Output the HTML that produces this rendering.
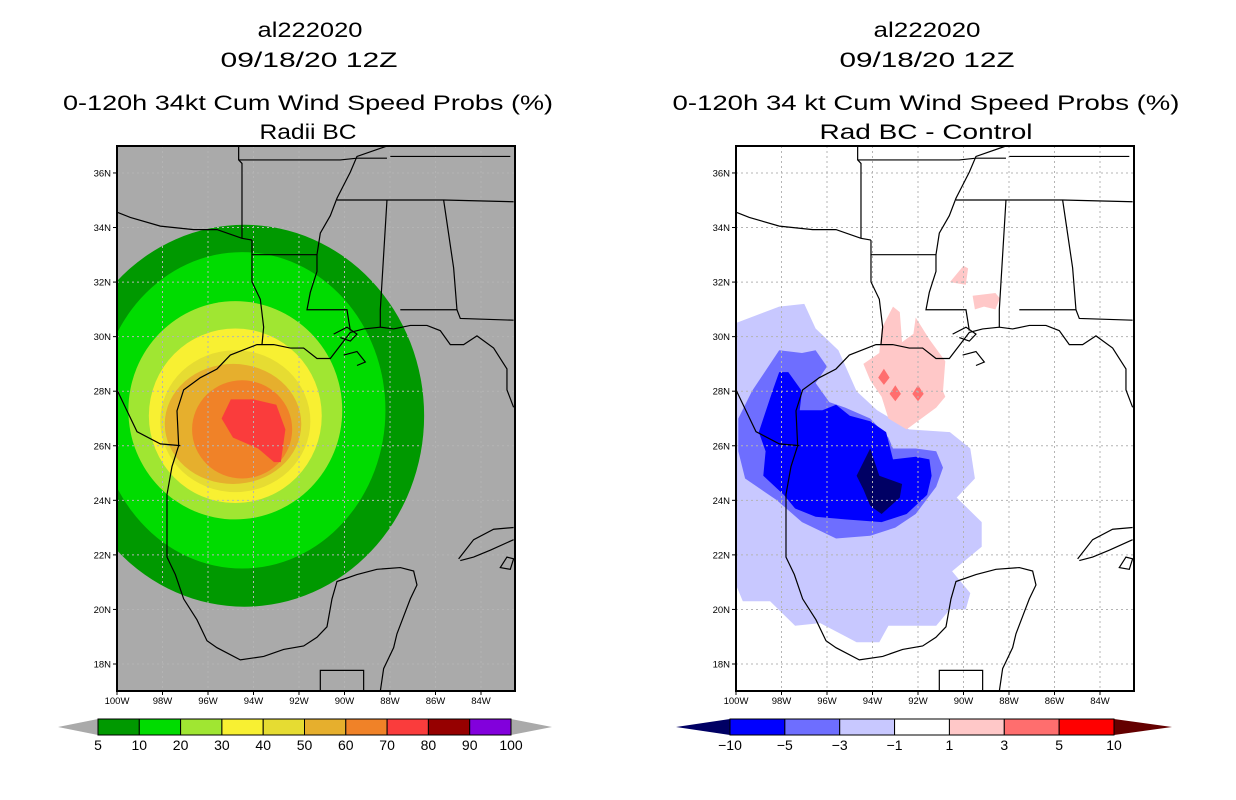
<!DOCTYPE html>
<html><head><meta charset="utf-8">
<style>
body{margin:0;background:#fff;width:1236px;height:800px;overflow:hidden;font-family:"Liberation Sans",sans-serif}
svg{position:absolute;left:0;top:0}
</style></head>
<body>
<svg id="chart" width="1236" height="800" viewBox="0 0 1236 800">
<g font-family="Liberation Sans, sans-serif" font-size="21" text-anchor="middle" fill="#000">
<text x="310" y="37" textLength="105" lengthAdjust="spacingAndGlyphs">al222020</text>
<text x="309" y="67" textLength="177" lengthAdjust="spacingAndGlyphs">09/18/20 12Z</text>
<text x="308" y="110" textLength="490" lengthAdjust="spacingAndGlyphs">0-120h 34kt Cum Wind Speed Probs (%)</text>
<text x="308" y="139" textLength="97" lengthAdjust="spacingAndGlyphs">Radii BC</text>
</g>
<g font-family="Liberation Sans, sans-serif" font-size="21" text-anchor="middle" fill="#000">
<text x="927" y="37" textLength="107" lengthAdjust="spacingAndGlyphs">al222020</text>
<text x="927" y="67" textLength="175" lengthAdjust="spacingAndGlyphs">09/18/20 12Z</text>
<text x="926" y="110" textLength="507" lengthAdjust="spacingAndGlyphs">0-120h 34 kt Cum Wind Speed Probs (%)</text>
<text x="926" y="139" textLength="213" lengthAdjust="spacingAndGlyphs">Rad BC - Control</text>
</g>
<g id="leftPanel" transform="translate(117,146)"></g>
<g id="rightPanel" transform="translate(736,146)"></g>
<g id="leftBar"></g>
<g id="rightBar"></g>
</svg>
<script>
// ---- data ----
const lonTicks=[100,98,96,94,92,90,88,86,84];
const latTicks=[18,20,22,24,26,28,30,32,34,36];
// left: probability contours as ellipses
const probLevels=[5,10,20,30,40,50,60];
const probCenterLon=[94.4,94.5,94.8,94.8,94.8,94.9,94.5];
const probCenterLat=[27.1,27.3,27.3,27.1,26.9,26.8,26.6];
const probRadLon=[7.9,6.3,4.7,3.8,3.3,3.0,2.2];
const probRadLat=[7.0,5.8,4.0,3.2,2.6,2.2,1.8];
const probCoreLon=[95.4,95.0,94.0,93.0,92.6,92.8,93.1,93.8,94.9];
const probCoreLat=[27.0,27.7,27.7,27.5,26.6,25.4,25.4,25.9,26.3];
const probColors=['#009900','#00dc00','#a0e632','#f8f032','#e6dc32','#e6af2d','#f08228','#fa3c3c','#960000','#8200dc'];
const probLabels=['5','10','20','30','40','50','60','70','80','90','100'];
// right: difference contours [lon, lat]
const diffLight=[[100,30.5],[98.1,31.1],[97.0,31.2],[96.5,30.3],[95.5,29.5],[94.7,28.0],[93.8,27.3],[92.4,26.6],[90.6,26.5],[89.7,25.9],[89.5,24.8],[90.3,24.1],[89.2,23.2],[89.2,22.3],[90.5,21.4],[89.7,20.6],[89.9,20.0],[90.6,20.0],[91.2,19.4],[93.3,19.4],[93.7,18.8],[94.7,18.8],[96.3,19.5],[97.4,19.4],[98.5,20.3],[99.7,20.3],[100,20.9]];
const diffMed=[[99.9,27.0],[99.3,28.0],[98.1,29.5],[97.1,29.4],[96.5,29.5],[96.0,28.9],[96.5,28.3],[95.9,27.6],[95.2,27.4],[94.1,27.0],[93.3,26.3],[93.1,25.9],[92.1,25.9],[91.2,25.8],[90.9,25.2],[91.2,24.5],[92.1,23.5],[93.0,23.0],[94.1,22.7],[95.6,22.6],[97.1,23.2],[98.2,24.0],[99.6,24.8],[99.9,25.8]];
const diffBlue=[[99.0,26.5],[98.4,28.0],[98.1,28.7],[97.7,28.7],[97.1,28.0],[97.2,27.3],[96.2,27.3],[95.6,27.5],[95.0,27.1],[94.1,26.9],[93.4,26.5],[93.1,25.5],[92.1,25.6],[91.5,25.5],[91.4,24.9],[91.6,24.2],[92.5,23.5],[93.6,23.2],[95.2,23.3],[96.5,23.4],[97.4,23.7],[97.9,24.2],[98.8,24.9],[98.7,25.8]];
const diffNavy=[[94.1,25.9],[93.7,24.9],[92.7,24.6],[92.8,24.1],[93.6,23.5],[94.1,23.8],[94.4,24.4],[94.7,24.9]];
const diffPink=[[94.4,29.0],[93.7,29.4],[93.6,30.3],[93.1,31.1],[92.8,30.9],[92.7,29.8],[92.2,30.1],[92.1,30.7],[91.5,29.9],[90.8,29.1],[90.9,28.0],[90.8,27.8],[91.2,27.4],[92.5,26.6],[93.3,27.0],[93.6,27.8],[94.1,28.4]];
const diffPink2=[[90.6,32.0],[90.0,32.6],[89.8,32.5],[89.9,31.9]];
const diffPink3=[[89.6,31.5],[88.6,31.6],[88.4,31.4],[88.6,31.0],[89.1,31.1],[89.5,31.0]];
const diffRedLon=[93.5,93.0,92.0];
const diffRedLat=[28.5,27.9,27.9];
const diffColors=['#000064','#0000ff','#6e6eff','#c8c8ff','#ffffff','#ffc8c8','#ff6e6e','#ff0000','#640000'];
const diffLabels=['-10','-5','-3','-1','1','3','5','10'];

// ---- axes ----
const W=398,H=545;
const x=lon=>(100-lon)*22.75;
const y=lat=>518-(lat-18)*27.28;
const NS='http://www.w3.org/2000/svg';
function mk(tag,attrs,parent){const e=document.createElementNS(NS,tag);for(const k in attrs)e.setAttribute(k,attrs[k]);parent.appendChild(e);return e;}
function polyPts(arr){return arr.map(p=>x(p[0]).toFixed(1)+','+y(p[1]).toFixed(1)).join(' ');}

// geography outlines (pixel units, scaled)
const geo=[
"M1190,750 L1170,700 1170,640 1130,580 1080,545 1040,570 1000,570 970,530 930,515 880,515 830,525 790,520 740,525 700,535 680,560 640,610 600,610 560,580 520,580 470,570 420,570 380,585 340,600 300,640 250,665 200,700 180,760 185,860 165,920 150,1000 150,1100 150,1180 175,1230 200,1300 240,1360 270,1420 300,1440 370,1475 440,1465 500,1445 560,1435 600,1410 630,1380 645,1300 660,1250 720,1230 780,1215 850,1210 890,1220 900,1260 880,1300 860,1350 840,1400 830,1440 810,1480 800,1500 790,1565",
"M0,190 L40,205 130,230 230,240 300,240 375,265 405,270",
"M365,0 L365,40 375,50 375,265",
"M365,40 L670,40 720,35 810,35",
"M405,270 L405,312 600,312",
"M405,312 L405,390 430,440 440,520 435,570",
"M810,0 L720,30 700,75 660,150 640,200 610,250 600,312 600,360 580,420 570,470 690,470 700,530",
"M660,155 L980,155 1190,160",
"M810,155 L790,470 790,520",
"M850,470 L1020,470 1030,495 1190,500",
"M980,155 L1010,350 1020,470",
"M820,30 L1180,30",
"M0,700 L40,780 60,820 130,855 190,860",
"M610,1565 L610,1505 740,1505 740,1565",
"M1025,1185 L1070,1130 1130,1100 1190,1095 M1190,1130 L1120,1160 1070,1180 1030,1190",
"M650,540 L690,520 720,540 700,560 670,550 M680,600 L720,590 745,620 720,630",
"M1170,1180 L1190,1185 1180,1215 1150,1210 Z"
];

function panel(g,bg,drawFill,tag){
  mk('rect',{x:0,y:0,width:W,height:H,fill:bg,},g);
  const fills=mk('g',{},g);
  
  
  drawFill(fills);
  const grid=mk('g',{stroke:'#b4b4b4','stroke-width':1,'stroke-dasharray':'2,3',fill:'none'},g);
  
  
  lonTicks.forEach(l=>{if(l<100)mk('line',{x1:x(l),y1:0,x2:x(l),y2:H},grid);});
  latTicks.forEach(l=>mk('line',{x1:0,y1:y(l),x2:W,y2:y(l)},grid));
  const geoG=mk('g',{transform:'scale(0.3333,0.3484)',fill:'none',stroke:'#000','stroke-width':1.2},g);
  
  
  geo.forEach(d=>mk('path',{d:d,'vector-effect':'non-scaling-stroke'},geoG));
  mk('rect',{x:0,y:0,width:W,height:H,fill:'none',stroke:'#000','stroke-width':2,},g);
  const ax=mk('g',{'font-size':9.5,'font-family':'Liberation Sans, sans-serif',fill:'#000'},g);
  
  
  latTicks.forEach(l=>{
    mk('line',{x1:-4,y1:y(l),x2:0,y2:y(l),stroke:'#000'},ax);
    const t=mk('text',{x:-6,y:y(l)+3.5,'text-anchor':'end'},ax);t.textContent=l+'N';
    
    
  });
  lonTicks.forEach(l=>{
    mk('line',{x1:x(l),y1:H,x2:x(l),y2:H+4,stroke:'#000'},ax);
    const t=mk('text',{x:x(l),y:H+13,'text-anchor':'middle'},ax);t.textContent=l+'W';
    
    
  });
}

const L=document.getElementById('leftPanel');
panel(L,'#aaaaaa',f=>{
  const cp=mk('clipPath',{id:'clipL'},f);mk('rect',{x:0,y:0,width:W,height:H},cp);
  f.setAttribute('clip-path','url(#clipL)');
  probLevels.forEach((lv,i)=>{
    const e=mk('ellipse',{cx:x(probCenterLon[i]),cy:y(probCenterLat[i]),rx:probRadLon[i]*22.75,ry:probRadLat[i]*27.28,fill:probColors[i]},f);
    
    
  });
  const core=mk('polygon',{points:polyPts(probCoreLon.map((v,i)=>[v,probCoreLat[i]])),fill:probColors[7]},f);
  
  
},'left');

const R=document.getElementById('rightPanel');
panel(R,'#ffffff',f=>{
  const cp=mk('clipPath',{id:'clipR'},f);mk('rect',{x:0,y:0,width:W,height:H},cp);
  f.setAttribute('clip-path','url(#clipR)');
  [[diffLight,3,'diff-minus1'],[diffMed,2,'diff-minus3'],[diffBlue,1,'diff-minus5'],[diffNavy,0,'diff-minus10'],[diffPink,5,'diff-plus1'],[diffPink2,5,'diff-plus1-b'],[diffPink3,5,'diff-plus1-c']].forEach(a=>{
    const p=mk('polygon',{points:polyPts(a[0]),fill:diffColors[a[1]]},f);
    
    
  });
  diffRedLon.forEach((lo,i)=>{
    const la=diffRedLat[i];
    const p=mk('polygon',{points:polyPts([[lo,la+0.32],[lo-0.25,la],[lo,la-0.27],[lo+0.25,la]]),fill:diffColors[6]},f);
    
    
  });
},'right');

function colorbar(g,x0,x1,boxStart,boxEnd,boxColors,labels,triL,triR){
  const n=boxColors.length;
  const bw=(boxEnd-boxStart)/n, y0=719,y1=735,ym=727;
  const tl=mk('polygon',{points:`${x0},${ym} ${boxStart},${y0} ${boxStart},${y1}`,fill:triL},g);
  
  
  const tr=mk('polygon',{points:`${x1},${ym} ${boxEnd},${y0} ${boxEnd},${y1}`,fill:triR},g);
  
  
  boxColors.forEach((c,i)=>{
    const r=mk('rect',{x:boxStart+i*bw,y:y0,width:bw,height:y1-y0,fill:c,stroke:'#000','stroke-width':1},g);
    
    
  });
  labels.forEach((t,i)=>{
    const tx=mk('text',{x:boxStart+i*bw,y:750,'text-anchor':'middle','font-size':14,'font-family':'Liberation Sans, sans-serif'},g);
    tx.textContent=t.replace('-','\u2212');
    
    
  });
}
colorbar(document.getElementById('leftBar'),58,552,98,511,probColors,probLabels,'#aaaaaa','#aaaaaa');
colorbar(document.getElementById('rightBar'),676,1172,730,1114,diffColors.slice(1,8),diffLabels,diffColors[0],diffColors[8]);
</script>
</body></html>
